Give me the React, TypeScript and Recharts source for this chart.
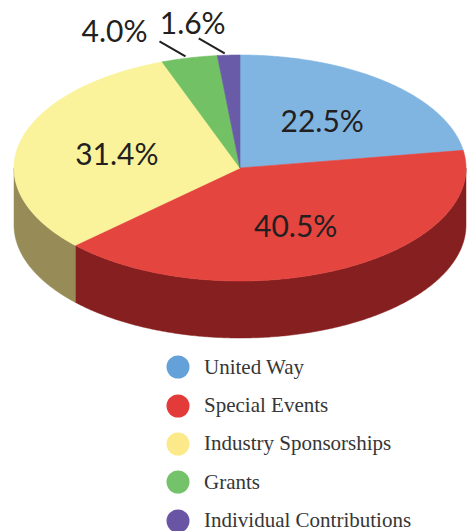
import React from 'react'
import { PieChart, Pie, Cell, Legend } from 'recharts'

const categories = ['United Way', 'Special Events', 'Industry Sponsorships', 'Grants', 'Individual Contributions']
const shares = [22.5, 40.5, 31.4, 4.0, 1.6]

const topColors = ['#80b5e2', '#e5453f', '#faf39b', '#73c165', '#6a5ba8']
const sideColors = ['#4f7fa8', '#861f1f', '#978c57', '#4a8a40', '#463a7a']
const legendColors = ['#65a1d9', '#e33b39', '#fbe98a', '#74c26a', '#6a55a4']

const data = categories.map((name, i) => ({ name, value: shares[i] }))

const TILT = 0.5
const DEPTH = 57

function ellipsePoint(cx: number, cy: number, rx: number, ry: number, angle: number) {
  const r = (-angle * Math.PI) / 180
  return [cx + rx * Math.cos(r), cy + ry * Math.sin(r)]
}

function Slice3D(props: any) {
  const { cx, cy, outerRadius, startAngle, endAngle, fill, payload } = props
  const rx = outerRadius
  const ry = outerRadius * TILT
  const arc = (from: number, to: number, dy = 0) => {
    const n = Math.max(2, Math.ceil(Math.abs(to - from) / 0.5))
    const out: string[] = []
    for (let i = 0; i <= n; i++) {
      const [x, y] = ellipsePoint(cx, cy + dy, rx, ry, from + ((to - from) * i) / n)
      out.push(`${x.toFixed(2)},${y.toFixed(2)}`)
    }
    return out
  }
  const top = `M${cx},${cy} L${arc(startAngle, endAngle).join(' L')} Z`
  // front half of the rim is where the angle lies between 0 and -180
  const hi = Math.min(startAngle, 0)
  const lo = Math.max(endAngle, -180)
  const side = sideColors[categories.indexOf(payload?.name ?? props.name)] ?? '#555'
  return (
    <g>
      {hi > lo && (
        <path
          d={`M${arc(hi, lo).join(' L')} L${arc(lo, hi, DEPTH).join(' L')} Z`}
          fill={side}
          stroke={side}
          strokeWidth={0.5}
        />
      )}
      <path d={top} fill={fill} stroke={fill} strokeWidth={0.6} />
    </g>
  )
}

function renderLabel(props: any) {
  const { cx, cy, outerRadius, midAngle, percent, value } = props
  const rx = outerRadius
  const ry = outerRadius * TILT
  const text = `${Number(value).toFixed(1)}%`
  const font = { fontFamily: 'Lato, sans-serif', fontSize: 30, fill: '#231f20' }
  if (percent > 0.05) {
    const [x, y] = ellipsePoint(cx, cy, rx * 0.56, ry * 0.56, midAngle)
    return (
      <text x={x} y={y} textAnchor="middle" dominantBaseline="central" {...font}>
        {text}
      </text>
    )
  }
  const [ex0, ey0] = ellipsePoint(cx, cy, rx, ry, midAngle + 1)
  const ex = ex0
  const ey = ey0 - 2
  const sx = ex - 26
  const sy = ey - 15
  const above = percent < 0.02
  return (
    <g>
      <line x1={sx} y1={sy} x2={ex} y2={ey} stroke="#231f20" strokeWidth={2} />
      {above ? (
        <text x={sx - 6} y={sy - 16} textAnchor="middle" dominantBaseline="central" {...font}>
          {text}
        </text>
      ) : (
        <text x={sx - 12} y={sy + 1} textAnchor="end" {...font}>
          {text}
        </text>
      )}
    </g>
  )
}

function LegendList({ payload }: any) {
  const items = [...(payload ?? [])].sort(
    (a: any, b: any) => categories.indexOf(a.value) - categories.indexOf(b.value),
  )
  return (
    <div>
      {items.map((p: any) => (
        <div key={p.value} style={{ display: 'flex', alignItems: 'center', height: 38.4 }}>
          <svg width={24} height={24} style={{ flex: 'none' }}>
            <circle cx={12} cy={12} r={11.5} fill={legendColors[categories.indexOf(p.value)]} />
          </svg>
          <span
            style={{
              marginLeft: 14,
              fontFamily: '"Liberation Serif", serif',
              fontSize: 21,
              color: '#363636',
              whiteSpace: 'nowrap',
            }}
          >
            {p.value}
          </span>
        </div>
      ))}
    </div>
  )
}

export default function App() {
  return (
    <div style={{ position: 'absolute', left: 0, top: 0, width: 468, height: 531, background: '#fff' }}>
      <PieChart width={468} height={531} margin={{ top: 0, right: 0, bottom: 0, left: 0 }}>
        <Pie
          data={data}
          dataKey="value"
          nameKey="name"
          cx={240}
          cy={168}
          outerRadius={226}
          startAngle={90}
          endAngle={-270}
          stroke="none"
          shape={Slice3D}
          label={renderLabel}
          labelLine={false}
          isAnimationActive={false}
        >
          {data.map((d, i) => (
            <Cell key={d.name} fill={topColors[i]} />
          ))}
        </Pie>
        <Legend
          content={<LegendList />}
          wrapperStyle={{ position: 'absolute', left: 166, top: 348, width: 300, bottom: 'auto' }}
        />
      </PieChart>
    </div>
  )
}
